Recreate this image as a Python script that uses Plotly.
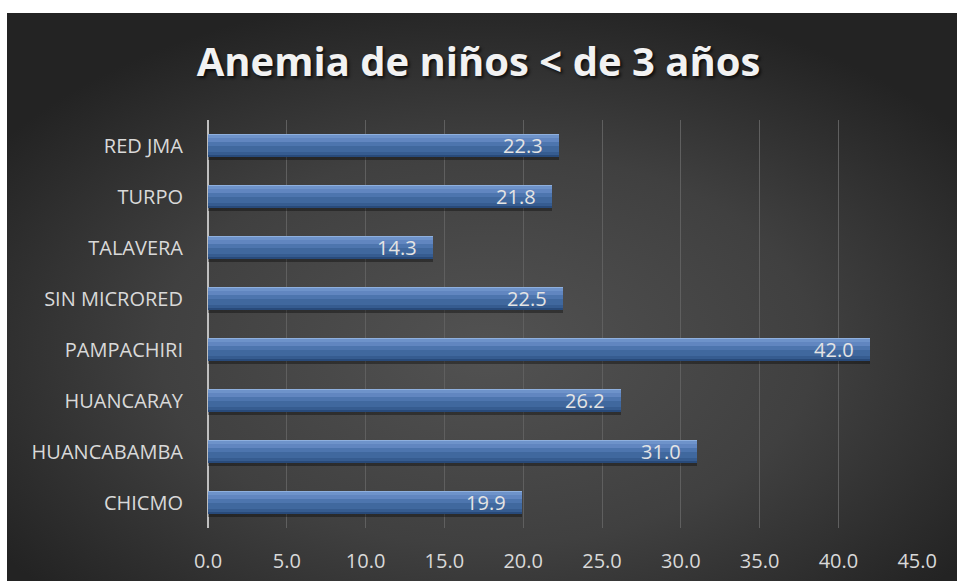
import base64
import plotly.graph_objects as go

categories = ["CHICMO", "HUANCABAMBA", "HUANCARAY", "PAMPACHIRI",
              "SIN MICRORED", "TALAVERA", "TURPO", "RED JMA"]
values = [19.9, 31.0, 26.2, 42.0, 22.5, 14.3, 21.8, 22.3]
tick_vals = [0, 5, 10, 15, 20, 25, 30, 35, 40, 45]
tick_text = ["0.0", "5.0", "10.0", "15.0", "20.0", "25.0", "30.0", "35.0", "40.0", "45.0"]
title_text = "Anemia de niños < de 3 años"

W, H = 957, 581
XMAX = 45.05
L, T, B = 208, 120, 53
R = W - L - round(709 * XMAX / 45)
pw, ph = W - L - R, H - T - B

svg = '''<svg xmlns="http://www.w3.org/2000/svg" width="960" height="580" viewBox="0 0 960 580" preserveAspectRatio="none">
<defs><radialGradient id="g" cx="50%" cy="58%" r="62%" fx="50%" fy="58%">
<stop offset="0%" stop-color="#525252"/><stop offset="55%" stop-color="#404040"/><stop offset="100%" stop-color="#232323"/>
</radialGradient></defs><rect width="960" height="580" fill="url(#g)"/></svg>'''
bg_src = "data:image/svg+xml;base64," + base64.b64encode(svg.encode()).decode()

BW = 0.47
fig = go.Figure()
# shadow below bar
fig.add_trace(go.Bar(y=categories, x=values, orientation="h", width=0.12, offset=-BW / 2 - 0.05,
                     marker=dict(color="rgba(0,0,0,0.35)", line_width=0), hoverinfo="skip", showlegend=False))
# main bar body
fig.add_trace(go.Bar(y=categories, x=values, orientation="h", width=BW, offset=-BW / 2,
                     marker=dict(color="#3f679d", line_width=0), hoverinfo="skip", showlegend=False))
# gradient bands (top to bottom): (offset from top, thickness, colour)
bands = [(0.00, 0.03, "#8fb0de"), (0.03, 0.06, "#6e93ca"), (0.09, 0.07, "#6186c0"),
         (0.16, 0.08, "#4d75ae"), (0.24, 0.12, "#40689e"), (0.36, 0.06, "#365c90"),
         (0.42, 0.05, "#284a7a")]
for top, thick, col in bands:
    fig.add_trace(go.Bar(y=categories, x=values, orientation="h", width=thick,
                         offset=BW / 2 - top - thick,
                         marker=dict(color=col, line_width=0), hoverinfo="skip", showlegend=False))
# labels
fig.add_trace(go.Bar(y=categories, x=values, orientation="h", width=BW, offset=-BW / 2,
                     marker=dict(color="rgba(0,0,0,0)", line_width=0), showlegend=False,
                     texttemplate="%{x:.1f}\u2002\u2009", textposition="inside",
                     insidetextanchor="end", textangle=0, constraintext="none",
                     textfont=dict(family="Open Sans", size=20, color="#e4e4e4")))

fig.update_layout(
    width=W, height=H,
    margin=dict(l=L, r=R, t=T, b=B, pad=0, autoexpand=False),
    paper_bgcolor="#242424", plot_bgcolor="rgba(0,0,0,0)",
    barmode="overlay", bargap=0,
    title=dict(text=title_text, x=0.5, xref="container", xanchor="center",
               y=1 - 62 / H, yref="container", yanchor="middle",
               font=dict(family="Open Sans", size=40, weight="bold", color="#f2f2f2",
                         shadow="2px 2px 3px rgba(0,0,0,0.7)")),
    images=[dict(source=bg_src, xref="paper", yref="paper",
                 x=(7 - L) / pw, y=1 + (T - 13) / ph,
                 sizex=(W + 10 - 7) / pw, sizey=(H + 10 - 13) / ph,
                 xanchor="left", yanchor="top", sizing="stretch", layer="below")],
    shapes=[
        dict(type="rect", xref="paper", yref="paper", x0=-L / pw - 0.01, x1=1 + R / pw + 0.01,
             y0=1 + (T - 13) / ph, y1=1 + T / ph + 0.01, fillcolor="white", line_width=0, layer="above"),
        dict(type="rect", xref="paper", yref="paper", x0=-L / pw - 0.01, x1=(7 - L) / pw,
             y0=-B / ph - 0.01, y1=1 + T / ph + 0.01, fillcolor="white", line_width=0, layer="above"),
    ],
    xaxis=dict(range=[0, XMAX], tickvals=tick_vals, ticktext=tick_text,
               showgrid=True, gridcolor="#5f5f5f", gridwidth=1,
               zeroline=True, zerolinecolor="#bfbfbf", zerolinewidth=2,
               ticks="outside", ticklen=15, tickcolor="rgba(0,0,0,0)", automargin=False,
               tickfont=dict(family="Open Sans", size=20, color="#d9d9d9"),
               showline=False, fixedrange=True),
    yaxis=dict(categoryorder="array", categoryarray=categories,
               ticks="outside", ticklen=20, tickcolor="rgba(0,0,0,0)", automargin=False,
               tickfont=dict(family="Open Sans", size=20, color="#d9d9d9"),
               showgrid=False, showline=False, fixedrange=True),
)

fig.write_html("out.html", config={"displayModeBar": False},
               post_script=("document.documentElement.style.margin='0';"
                            "document.documentElement.style.padding='0';"
                            "document.documentElement.style.overflow='hidden';"
                            "document.documentElement.style.background='#232323';"
                            "document.body.style.margin='0';document.body.style.padding='0';"
                            "document.body.style.overflow='hidden';"
                            "document.body.style.background='#232323';"))
